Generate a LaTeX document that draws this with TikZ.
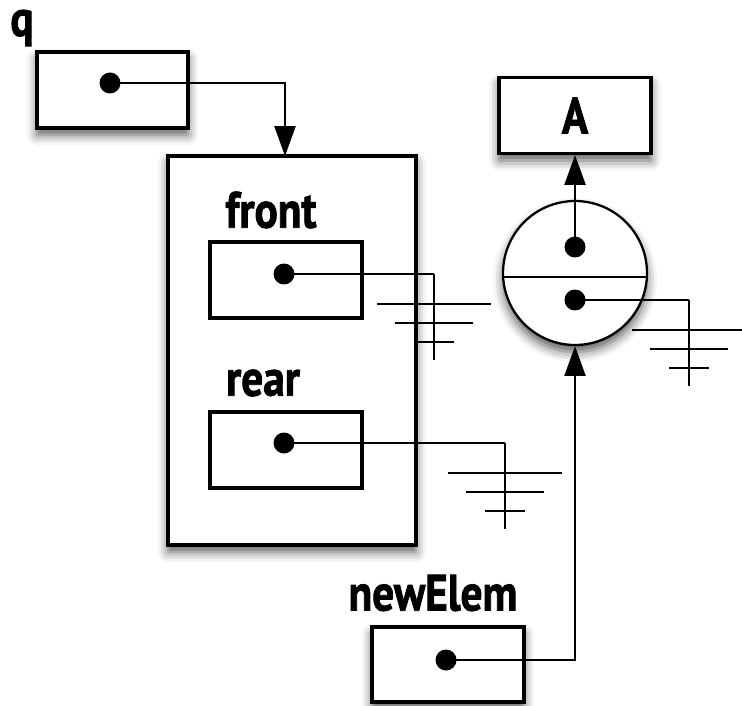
\documentclass[tikz,border=0pt]{standalone}
\usepackage{fontspec}
\setmainfont{PT Sans}
\newfontfamily\labelfont{PT Sans}[FakeStretch=0.85,FakeBold=1.5]
\usetikzlibrary{arrows.meta,shadows.blur}
\tikzset{
	shade/.style={blur shadow={shadow xshift=0pt, shadow yshift=-0.14cm, shadow blur radius=0.2cm, shadow opacity=65}},
	cell/.style={draw, line width=1.8pt, fill=white, minimum width=3.04cm, minimum height=1.52cm},
	dot/.style={circle, fill=black, inner sep=0pt, minimum size=0.42cm},
	tag/.style={font=\labelfont\bfseries\fontsize{29}{32}\selectfont, inner sep=0pt},
	wire/.style={line width=1.2pt},
	ptr/.style={wire, -{Triangle[length=17pt,width=12pt]}},
	nullptr/.pic={
		\draw[wire] (0,0) -- (0,86);
		\draw[wire] (-57,30) -- (57,30);
		\draw[wire] (-39,49) -- (39,49);
		\draw[wire] (-20,68) -- (20,68);
	}
}

\begin{document}
\begin{tikzpicture}[x=0.02cm, y=-0.02cm]
		%%%%% START %%%%%
		\useasboundingbox (0,0) rectangle (742,705);
		
		\node[tag] (qlbl) at (22,28) {q};
		\node[cell, shade, minimum width=3.02cm] (qbox) at (112.5,90) {};
		\node[dot] (qdot) at (110,83) {};
		
		\node[draw, line width=1.8pt, fill=white, shade, minimum width=4.96cm, minimum height=7.78cm] (queue) at (292,350.5) {};
		\coordinate (qin) at (285,156);
		
		\node[tag] (frontlbl) at (271,210) {front};
		\node[cell] (frontbox) at (286,280) {};
		\node[dot] (frontdot) at (284,274) {};
		
		\node[tag] (rearlbl) at (263,383) {rear};
		\node[cell] (rearbox) at (286,450) {};
		\node[dot] (reardot) at (284,443) {};
		
		\node[cell, shade, font=\labelfont\bfseries\fontsize{29}{32}\selectfont] (abox) at (575,115.5) {A};
		
		\node[draw, circle, line width=1.3pt, fill=white, shade, minimum size=2.88cm] (elem) at (575,273) {};
		\draw[line width=1.3pt] ([yshift=-0.08cm]elem.west) -- ([yshift=-0.08cm]elem.east);
		\node[dot] (valdot) at (575,247) {};
		\node[dot] (nextdot) at (575,300) {};
		
		\node[tag] (newlbl) at (433,593) {newElem};
		\node[cell, shade, minimum height=1.5cm] (newbox) at (448,664.5) {};
		\node[dot] (newdot) at (446,660) {};
		
		% pointers
		\draw[ptr] (qdot.center) -| (qin);
		\draw[ptr] (valdot.center) -- (abox.south);
		\draw[ptr] (newdot.center) -| (elem.south);
		
		% null pointers
		\coordinate (frontnull) at (434,274);
		\coordinate (rearnull) at (505,443);
		\coordinate (nextnull) at (689,300);
		\draw[wire] (frontdot.center) -- (frontnull);
		\draw[wire] (reardot.center) -- (rearnull);
		\draw[wire] (nextdot.center) -- (nextnull);
		\pic at (frontnull) {nullptr};
		\pic at (rearnull) {nullptr};
		\pic at (nextnull) {nullptr};
		%%%%% END %%%%%
\end{tikzpicture}
\end{document}
